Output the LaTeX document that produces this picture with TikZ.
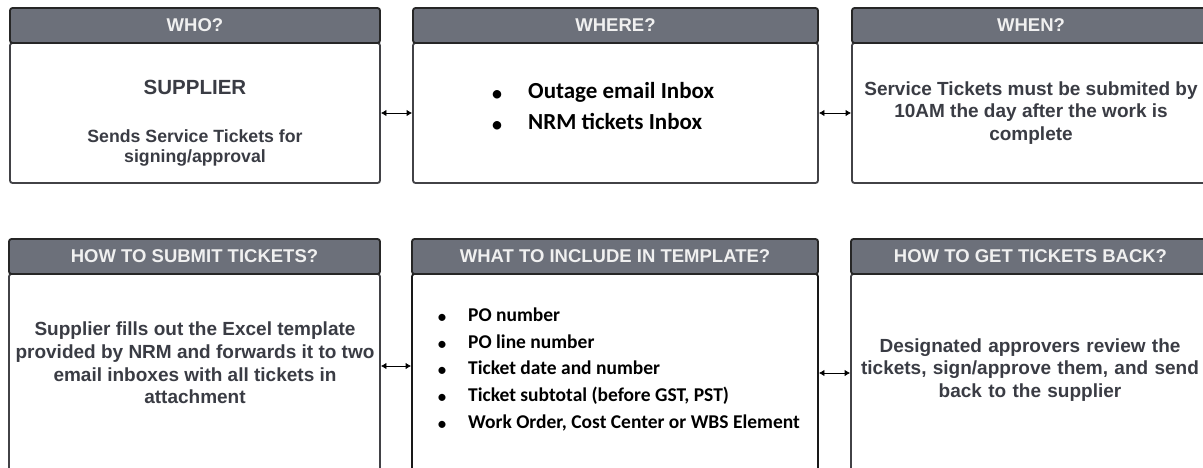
\documentclass[tikz,border=0pt]{standalone}
\usepackage{fontspec}
\setmainfont{Liberation Sans}
\newfontfamily\calib{Carlito}
\usetikzlibrary{arrows.meta}

\definecolor{headgray}{RGB}{108,112,122}
\definecolor{textgray}{RGB}{58,60,68}
\definecolor{framegray}{RGB}{66,66,70}

\begin{document}
\begin{tikzpicture}[x=1pt, y=-1pt,
  head/.style = {draw=black!85, line width=1.8pt, fill=headgray, rounded corners=2.5pt, inner sep=0pt, minimum height=35pt, text=white!94!black, font=\fontsize{18.5}{20}\selectfont\bfseries},
  card/.style = {draw=framegray, line width=1.8pt, fill=white, rounded corners=2.5pt, inner sep=0pt},
  txt/.style = {text=textgray, align=center, font=\fontsize{19}{22.7}\selectfont\bfseries},
  dot/.style = {inner sep=0pt, font=\calib\bfseries},
  item/.style = {anchor=west, inner sep=0pt, text height=0.7em, text depth=0.2em, font=\calib\bfseries},
  link/.style = {{Latex[length=5.5pt,width=6.5pt]}-{Latex[length=5.5pt,width=6.5pt]}, line width=0.8pt}
]
\useasboundingbox (0,0) rectangle (1203,467);
\clip (0,0) rectangle (1203,467);

% top row
\node[card, minimum width=370pt, minimum height=140pt] (whoBody) at (195,113) {};
\node[head, minimum width=370pt] (whoHead) at (195,25.5) {WHO?};
\node[card, minimum width=405pt, minimum height=140pt] (whereBody) at (615.5,113) {};
\node[head, minimum width=405pt] (whereHead) at (615.5,25.5) {WHERE?};
\node[card, minimum width=358pt, minimum height=140pt] (whenBody) at (1031,113) {};
\node[head, minimum width=358pt] (whenHead) at (1031,25.5) {WHEN?};

\node[txt, font=\fontsize{20.5}{22}\selectfont\bfseries] (supplier) at (195,87) {SUPPLIER};
\node[txt, font=\fontsize{17.7}{20}\selectfont\bfseries] (sends) at (195,148) {Sends Service Tickets for\\signing/approval};

\foreach \t [count=\i] in {Outage email Inbox, NRM tickets Inbox} {
  \node[dot, font=\calib\fontsize{24}{26}\selectfont] (whereDot\i) at (497,65+31*\i) {\textbullet};
  \node[item, font=\calib\fontsize{23}{26}\selectfont\bfseries] (where\i) at (528,65+31*\i) {\t};
}

\node[txt] (deadline) at (1031,113) {Service Tickets must be submited by\\10AM the day after the work is\\complete};

% bottom row
\node[card, minimum width=371pt, minimum height=236pt] (howBody) at (194.5,392) {};
\node[head, minimum width=371pt] (howHead) at (194.5,256.5) {HOW TO SUBMIT TICKETS?};
\node[card, draw=black!90, minimum width=406pt, minimum height=236pt] (whatBody) at (615,392) {};
\node[head, minimum width=406pt] (whatHead) at (615,256.5) {WHAT TO INCLUDE IN TEMPLATE?};
\node[card, minimum width=359pt, minimum height=236pt] (backBody) at (1030.5,392) {};
\node[head, minimum width=359pt] (backHead) at (1030.5,256.5) {HOW TO GET TICKETS BACK?};

\node[txt] (fills) at (195,363) {Supplier fills out the Excel template\\provided by NRM and forwards it to two\\email inboxes with all tickets in\\attachment};

\foreach \t [count=\i] in {PO number, PO line number, Ticket date and number, Ticket subtotal (before GST{,} PST), {Work Order, Cost Center or WBS Element}} {
  \node[dot, font=\calib\fontsize{20}{22}\selectfont] (whatDot\i) at (442,292.3+26.7*\i) {\textbullet};
  \node[item, font=\calib\fontsize{19.5}{22}\selectfont\bfseries] (what\i) at (468,292.3+26.7*\i) {\t};
}

\node[txt, text width=350pt] (review) at (1030,370) {Designated approvers review the\\tickets, sign/approve them, and send\\back to the supplier};

% connectors
\draw[link] (whoBody) -- (whereBody);
\draw[link] (whereBody) -- (whenBody);
\draw[link] ([yshift=26pt]howBody.east) -- ([yshift=26pt]whatBody.west);
\draw[link] ([yshift=19pt]whatBody.east) -- ([yshift=19pt]backBody.west);
\end{tikzpicture}
\end{document}
